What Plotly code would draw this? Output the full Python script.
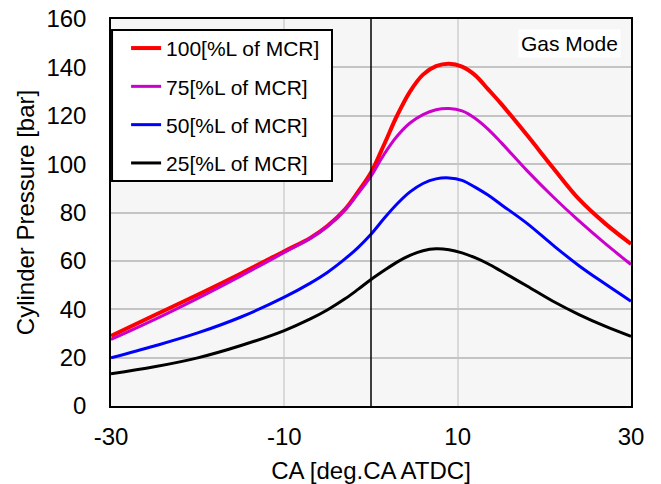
import plotly.graph_objects as go

ca = [-30, -25, -20, -15, -10, -7, -5, -3, -1.5, 0, 1.5, 3, 4.5, 6, 7.5, 9, 10.5, 12, 13.5, 15, 18, 21, 24, 27, 30]
p100 = [29, 37.5, 46, 54.8, 64, 69.5, 74.5, 81.3, 88.5, 96.5, 108, 120, 130, 137, 140.5, 141.5, 140.3, 136.8, 131, 125, 112, 98.5, 85.5, 75.5, 67]
p75 = [27.5, 35.7, 44.5, 53.8, 63.5, 69.3, 74.3, 81, 87.8, 95, 104, 111.5, 117, 120.5, 122.5, 123, 122, 119, 114.5, 109, 97.3, 86.5, 76.5, 67.2, 58.5]
p50 = [19.9, 24.8, 30.2, 36.8, 45, 50.8, 55.3, 60.8, 65.5, 71, 77.5, 83.5, 88.5, 92, 93.9, 94.3, 93.3, 90.5, 87.2, 83.3, 75.5, 66.5, 58, 50.5, 43.3]
p25 = [13.3, 16.2, 19.9, 25, 31.2, 36, 39.8, 44.3, 48.2, 52.3, 56, 59.5, 62.3, 64.2, 65, 64.6, 63.3, 61.3, 58.8, 55.8, 49.6, 43.3, 37.8, 33, 28.8]

names = ["100[%L of MCR]", "75[%L of MCR]", "50[%L of MCR]", "25[%L of MCR]"]
series = [p100, p75, p50, p25]
colors = ["#ff0000", "#cc00cc", "#0000ff", "#000000"]
widths = [4, 3, 3, 3]

x_ticks = [-30, -10, 10, 30]
x_ticktext = ["-30", "-10", "10", "30"]

FONT = "Liberation Sans, Arial, sans-serif"

fig = go.Figure()
for i, (n, s, c, w) in enumerate(zip(names, series, colors, widths)):
    fig.add_trace(go.Scatter(x=ca, y=s, mode="lines", name=n, legendgroup=str(i),
                             line=dict(color=c, width=w, shape="spline", smoothing=1.0)))

# vertical TDC line
fig.add_shape(type="line", x0=0, x1=0, y0=0, y1=160, xref="x", yref="y",
              line=dict(color="black", width=1.5), layer="above")
# legend frame
fig.add_shape(type="rect", xref="paper", yref="paper",
              x0=0.002, x1=0.425, y0=0.5814, y1=0.9716,
              fillcolor="white", line=dict(color="black", width=2), layer="above")

fig.add_annotation(x=0.981, y=0.974, xref="paper", yref="paper", xanchor="right", yanchor="top",
                   text="Gas Mode", showarrow=False, bgcolor="white",
                   font=dict(family=FONT, size=21, color="black"),
                   borderpad=2)

fig.update_layout(
    width=661, height=484,
    margin=dict(l=111, r=30, t=19, b=78),
    paper_bgcolor="white", plot_bgcolor="#f6f6f6",
    font=dict(family=FONT, size=21, color="black"),
    legend=dict(x=0.029, y=0.977, xanchor="left", yanchor="top",
                bgcolor="rgba(0,0,0,0)", borderwidth=0,
                font=dict(size=21), tracegroupgap=8),
    xaxis=dict(range=[-30, 30], tickvals=x_ticks, ticktext=x_ticktext, showgrid=True,
               gridcolor="#d9d9d9", gridwidth=1.5, zeroline=False, automargin=False,
               showline=True, linecolor="black", linewidth=1.5, mirror=True,
               ticks="", ticklabelstandoff=8, tickfont=dict(size=24),
               ticklabeloverflow="allow",
               title=dict(text="CA [deg.CA ATDC]", standoff=14, font=dict(size=24))),
    yaxis=dict(range=[0, 160], dtick=20, showgrid=True,
               gridcolor="#c4c4c4", gridwidth=1.5, zeroline=False, automargin=False,
               showline=True, linecolor="black", linewidth=1.5, mirror=True,
               ticks="", ticklabelstandoff=18, tickfont=dict(size=24),
               ticklabeloverflow="allow",
               title=dict(text="Cylinder Pressure [bar]", standoff=5, font=dict(size=24))),
)

fig.write_html("out.html", config={"displayModeBar": False},
               post_script="document.body.style.margin='0px';")
